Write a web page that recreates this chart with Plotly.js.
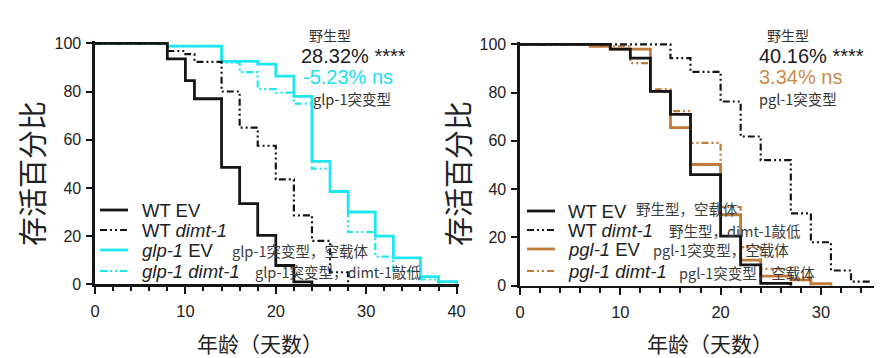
<!DOCTYPE html>
<html><head><meta charset="utf-8">
<script src="https://cdn.plot.ly/plotly-3.0.1.min.js"></script>
<style>html,body{margin:0;padding:0;background:#fff;}#chart{width:884px;height:358px;}</style>
</head><body><div id="chart"></div>
<script>
// ---------- DATA ----------
// Left panel: glp-1
const glpWtEvDays   = [0, 8, 10, 11, 14, 16, 18, 20, 22, 24];
const glpWtEvSurv   = [100, 93.5, 84.5, 77, 48.5, 33.5, 20.3, 7.8, 1, 0];
const glpWtDimtDays = [0, 8, 10, 11, 14, 16, 18, 20, 22, 24, 26, 28];
const glpWtDimtSurv = [100, 96.8, 95.5, 92.3, 80, 65, 57.5, 43.5, 28.6, 18, 5, 0];
const glpEvDays     = [0, 8, 14, 18, 20, 22, 24, 26, 28, 31, 33, 36, 38, 40];
const glpEvSurv     = [100, 98.8, 92.5, 91.4, 86.4, 78, 51, 38.5, 30, 20, 11, 3.2, 1.1, 0];
const glpDimtDays   = [0, 8, 14, 16, 18, 20, 22, 24, 26, 28, 31, 33, 36, 38];
const glpDimtSurv   = [100, 98.8, 92, 88, 81, 79.5, 75, 48, 38.5, 21.7, 11.5, 5.5, 2, 0];

// Right panel: pgl-1
const pglWtEvDays   = [0, 9, 11, 13, 15, 17, 20, 22, 24, 27];
const pglWtEvSurv   = [100, 98, 94.3, 80.5, 71, 46, 20.5, 8.6, 1, 0];
const pglWtDimtDays = [0, 15, 17, 20, 22, 24, 27, 29, 31, 33, 35];
const pglWtDimtSurv = [100, 94.3, 88.6, 76.3, 61.8, 52, 30, 18, 6.3, 1.7, 1.7];
const pglEvDays     = [0, 7, 9, 13, 15, 17, 20, 22, 24, 27, 29, 31];
const pglEvSurv     = [100, 99.2, 98, 80.5, 65.5, 50.2, 29.4, 10.6, 4, 2.4, 0.8, 0];
const pglDimtDays   = [0, 7, 11, 13, 15, 17, 20, 22, 24, 27, 29];
const pglDimtSurv   = [100, 99.2, 92.2, 81.3, 72.3, 59.2, 32.6, 16, 7, 3.5, 0];

// Labels
const glpLegend = ['WT EV', 'WT <i>dimt-1</i>', '<i>glp-1</i> EV', '<i>glp-1 dimt-1</i>'];
const glpNotes  = ['', '', 'glp-1突变型，空载体', 'glp-1突变型，dimt-1敲低'];
const pglLegend = ['WT EV', 'WT <i>dimt-1</i>', '<i>pgl-1</i> EV', '<i>pgl-1 dimt-1</i>'];
const pglNotes  = ['野生型，空载体', '野生型，dimt-1敲低', 'pgl-1突变型，空载体', 'pgl-1突变型，空载体'];
const glpStats  = ['野生型', '28.32% ****', '-5.23% ns', 'glp-1突变型'];
const pglStats  = ['野生型', '40.16% ****', '3.34% ns', 'pgl-1突变型'];
const xTitle = '年龄（天数）';
const yTitle = '存活百分比';

// ---------- STYLE / LAYOUT ----------
const W = 884, H = 358;
const BLACK = '#151515', CYAN = '#1fe6f0', BROWN = '#c27a38', BROWN_T = '#cc8a48', CYAN_T = '#22def0';
const DASH = '7px,3px,2px,3px,2px,3px';
const FONT = 'Liberation Sans, Arial, Noto Sans CJK SC, sans-serif';
const CJK = 'Noto Sans CJK SC, Liberation Sans, sans-serif';
const px = v => v / W, py = v => 1 - v / H;

// Panel geometry in pixels
const L = {x0: 95, ppx: 9.04, xmax: 40.3, y0: 284.3, ppy: 2.41, ymax: 101};
const R = {x0: 520, ppx: 10.03, xmax: 35.3, y0: 285.7, ppy: 2.414, ymax: 101};
function xdom(p){ return [px(p.x0), px(p.x0 + p.xmax * p.ppx)]; }
function ydom(p){ return [py(p.y0), py(p.y0 - p.ymax * p.ppy)]; }

function step(x, y, color, dashed, xa, ya){
  return {x: x, y: y, xaxis: xa, yaxis: ya, type: 'scatter', mode: 'lines',
    line: {shape: 'hv', color: color, width: dashed ? 2.2 : 2.8, dash: dashed ? DASH : 'solid'},
    showlegend: false, hoverinfo: 'skip'};
}

const traces = [
  step(glpDimtDays, glpDimtSurv, CYAN, true, 'x', 'y'),
  step(glpEvDays, glpEvSurv, CYAN, false, 'x', 'y'),
  step(glpWtDimtDays, glpWtDimtSurv, BLACK, true, 'x', 'y'),
  step(glpWtEvDays, glpWtEvSurv, BLACK, false, 'x', 'y'),
  step(pglDimtDays, pglDimtSurv, BROWN, true, 'x2', 'y2'),
  step(pglEvDays, pglEvSurv, BROWN, false, 'x2', 'y2'),
  step(pglWtDimtDays, pglWtDimtSurv, BLACK, true, 'x2', 'y2'),
  step(pglWtEvDays, pglWtEvSurv, BLACK, false, 'x2', 'y2'),
];

function xaxis(p, anchor){
  return {domain: xdom(p), anchor: anchor, range: [0, p.xmax], tickmode: 'linear', tick0: 0, dtick: 10,
    ticks: 'outside', ticklen: 7, tickwidth: 2, tickcolor: BLACK, showline: true, linewidth: 2.6, linecolor: BLACK,
    showgrid: false, zeroline: false, ticklabelstandoff: 3,
    tickfont: {family: FONT, size: 16.5, color: '#222'},
    minor: {dtick: 2, tick0: 0, ticks: 'outside', ticklen: 4.5, tickwidth: 2, tickcolor: BLACK, showgrid: false}};
}
function yaxis(p, anchor){
  return {domain: ydom(p), anchor: anchor, range: [0, p.ymax], tickmode: 'linear', tick0: 0, dtick: 20,
    ticks: 'outside', ticklen: 6, tickwidth: 2, tickcolor: BLACK, showline: true, linewidth: 2.6, linecolor: BLACK,
    showgrid: false, zeroline: false, ticklabelstandoff: 2,
    tickfont: {family: FONT, size: 16, color: '#222'}};
}

const shapes = [], annotations = [];
function ann(text, x, y, size, color, opts){
  annotations.push(Object.assign({text: text, xref: 'paper', yref: 'paper', x: px(x), y: py(y),
    xanchor: 'left', yanchor: 'middle', showarrow: false,
    font: {family: FONT, size: size, color: color}}, opts || {}));
}

// Legends (sample lines + labels)
const rowsL = [210, 230, 250, 271], rowsR = [211, 230, 249, 271];
const colsL = [BLACK, BLACK, CYAN, CYAN], colsR = [BLACK, BLACK, BROWN, BROWN];
const dashes = [false, true, false, true];
function legend(rows, cols, labels, notes, lx0, lx1, tx, noteX, noteDy){
  rows.forEach((r, i) => {
    shapes.push({type: 'line', xref: 'paper', yref: 'paper', x0: px(lx0), x1: px(lx1), y0: py(r), y1: py(r),
      line: {color: cols[i], width: dashes[i] ? 2.2 : 2.8, dash: dashes[i] ? DASH : 'solid'}});
    ann(labels[i], tx, r, 18.5, '#222');
    if (notes[i]) ann(notes[i], noteX[i], r + noteDy[i], 14.5, '#3c3c3c', {font: {family: CJK, size: 14.5, color: '#3c3c3c'}});
  });
}
legend(rowsL, colsL, glpLegend, glpNotes, 100, 128, 140, [0, 0, 230, 253], [0, 0, 0, 0]);
legend(rowsR, colsR, pglLegend, pglNotes, 527, 555, 566, [634, 667, 651, 677], [-3, 0, 0, 1]);

// Stats text
function stats(s, xs, color2){
  ann(s[0], xs[0], 35, 14, '#333', {font: {family: CJK, size: 14, color: '#333'}});
  ann(s[1], xs[1], 56, 20, '#1b1b25');
  ann(s[2], xs[2], 77, 20, color2);
  ann(s[3], xs[3], 98, 14.5, '#333', {font: {family: CJK, size: 14.5, color: '#333'}});
}
stats(glpStats, [307, 299, 301, 311], CYAN_T);
stats(pglStats, [765, 757, 757, 757], BROWN_T);

// Axis titles
function titles(xc, yx){
  annotations.push({text: xTitle, xref: 'paper', yref: 'paper', x: px(xc), y: py(343), xanchor: 'center', yanchor: 'middle',
    showarrow: false, font: {family: CJK, size: 21, color: '#222'}});
  annotations.push({text: yTitle, xref: 'paper', yref: 'paper', x: px(yx), y: py(174), xanchor: 'center', yanchor: 'middle',
    textangle: -90, showarrow: false, font: {family: CJK, size: 29, color: '#222'}});
}
titles(260, 31);
titles(710, 457);

const layout = {
  width: W, height: H, margin: {l: 0, r: 0, t: 0, b: 0},
  paper_bgcolor: '#fff', plot_bgcolor: '#fff', showlegend: false,
  xaxis: xaxis(L, 'y'), yaxis: yaxis(L, 'x'),
  xaxis2: xaxis(R, 'y2'), yaxis2: yaxis(R, 'x2'),
  shapes: shapes, annotations: annotations,
  font: {family: FONT}
};
Plotly.newPlot('chart', traces, layout, {staticPlot: true, displayModeBar: false});
</script></body></html>
